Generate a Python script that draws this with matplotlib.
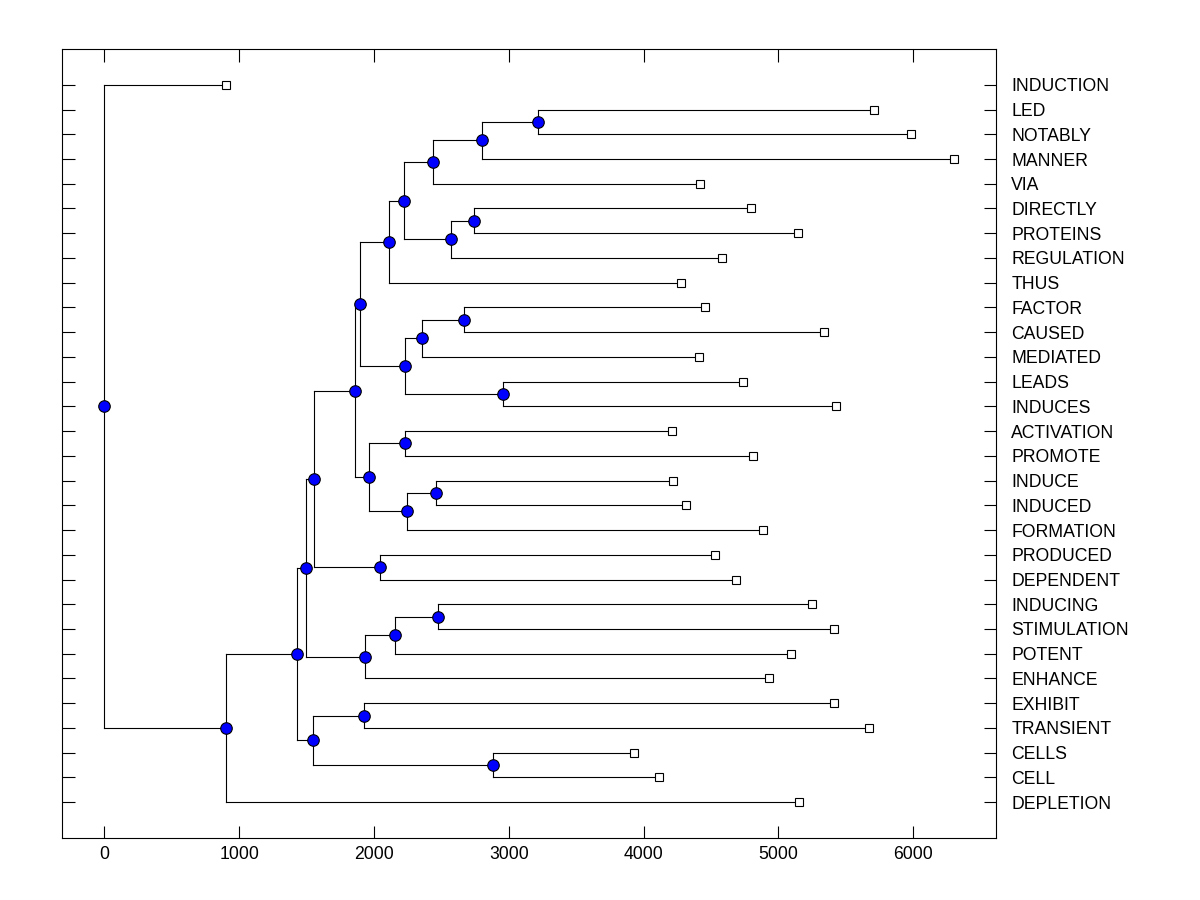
import numpy as np
import matplotlib
matplotlib.use("Agg")
import matplotlib.pyplot as plt

plt.rcParams['font.family'] = ['Liberation Sans', 'DejaVu Sans']

# leaves, listed top to bottom, with the position of each leaf square
leaf_names = ['INDUCTION', 'LED', 'NOTABLY', 'MANNER', 'VIA', 'DIRECTLY', 'PROTEINS',
              'REGULATION', 'THUS', 'FACTOR', 'CAUSED', 'MEDIATED', 'LEADS', 'INDUCES',
              'ACTIVATION', 'PROMOTE', 'INDUCE', 'INDUCED', 'FORMATION', 'PRODUCED',
              'DEPENDENT', 'INDUCING', 'STIMULATION', 'POTENT', 'ENHANCE', 'EXHIBIT',
              'TRANSIENT', 'CELLS', 'CELL', 'DEPLETION']
leaf_x = [898, 5708, 5985, 6304, 4418, 4797, 5146,
          4581, 4275, 4455, 5339, 4411, 4738, 5428,
          4208, 4812, 4215, 4312, 4886, 4530,
          4686, 5250, 5413, 5094, 4931, 5413,
          5673, 3928, 4114, 5153]

# merges: (child a, child b) -> new node 30, 31, ... ; node_x is the merge position
merge_a = [1, 30, 31, 5, 33, 32, 35, 9, 37, 12, 38, 36, 14, 16, 43, 42, 41, 19, 46,
           21, 49, 50, 48, 25, 27, 53, 52, 56, 0]
merge_b = [2, 3, 4, 6, 7, 34, 8, 10, 11, 13, 39, 40, 15, 17, 18, 44, 45, 20, 47,
           22, 23, 24, 51, 26, 28, 54, 55, 29, 57]
node_x = [3215, 2800, 2436, 2740, 2569, 2220, 2109, 2666, 2354, 2955, 2228, 1894,
          2228, 2458, 2243, 1960, 1856, 2042, 1552, 2473, 2153, 1931, 1498, 1923,
          2881, 1544, 1431, 898, 0]

n = len(leaf_names)
xs = list(leaf_x)
ys = list(range(n))
for a, b, h in zip(merge_a, merge_b, node_x):
    xs.append(h)
    ys.append((ys[a] + ys[b]) / 2)

fig = plt.figure(figsize=(12, 9), dpi=100)
ax = fig.add_axes([0.0517, 0.0689, 0.7783, 0.8767])

for k, (a, b, h) in enumerate(zip(merge_a, merge_b, node_x)):
    ax.plot([h, h], [ys[a], ys[b]], color='black', lw=0.8, zorder=1)
    ax.plot([h, xs[a]], [ys[a], ys[a]], color='black', lw=0.8, zorder=1)
    ax.plot([h, xs[b]], [ys[b], ys[b]], color='black', lw=0.8, zorder=1)

ax.plot(xs[:n], ys[:n], ls='none', marker='s', ms=6.2, mfc='white', mec='black',
        mew=0.8, zorder=3)
ax.plot(xs[n:], ys[n:], ls='none', marker='o', ms=8.3, mfc='#0000ff', mec='black',
        mew=0.8, zorder=3)

ax.set_xlim(-315, 6615)
ax.set_ylim(n - 1 + 1.45, -1.45)
ax.set_xticks([0, 1000, 2000, 3000, 4000, 5000, 6000])
ax.set_yticks(range(n))
ax.set_yticklabels(leaf_names)

ax.tick_params(axis='both', direction='in', length=9, width=0.8, labelsize=12.7,
               color='black')
ax.tick_params(axis='x', top=True, bottom=True, pad=6)
ax.tick_params(axis='y', left=True, right=True, labelleft=False, labelright=True,
               pad=11)
for s in ax.spines.values():
    s.set_linewidth(0.8)

fig.savefig('out.png', dpi=100)
